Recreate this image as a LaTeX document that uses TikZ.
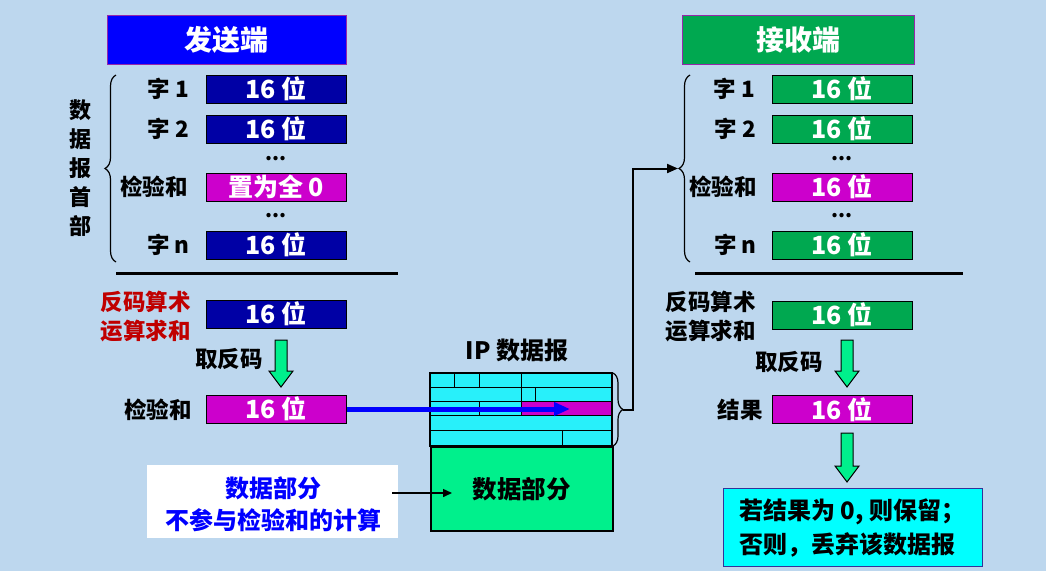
\documentclass[tikz,border=0pt]{standalone}
\usepackage{fontspec}
\setmainfont{Noto Sans CJK SC}
\usetikzlibrary{decorations.pathreplacing,arrows.meta}
\definecolor{bgc}{RGB}{189,215,238}
\definecolor{fblue}{RGB}{0,0,165}
\definecolor{tblue}{RGB}{0,0,255}
\definecolor{fmag}{RGB}{204,0,204}
\definecolor{fgreen}{RGB}{0,168,80}
\definecolor{hcyan}{RGB}{40,240,250}
\definecolor{rcyan}{RGB}{0,255,255}
\definecolor{dgreen}{RGB}{0,240,140}
\definecolor{rred}{RGB}{192,0,0}
\definecolor{rbord}{RGB}{51,51,153}
\definecolor{tbord}{RGB}{150,40,170}
\newcommand{\fs}[1]{\bfseries\fontsize{#1}{#1}\selectfont}
\begin{document}
\begin{tikzpicture}[x=1pt,y=-1pt,
  field/.style={rectangle,draw=black,line width=1pt,minimum width=140pt,minimum height=28pt,inner sep=0pt,font=\fs{25},text=white},
  titlebox/.style={rectangle,draw=tbord,line width=0.8pt,minimum height=49pt,inner sep=0pt,font=\fs{28},text=white},
  lbl/.style={anchor=east,inner sep=0pt,font=\fs{22.5}},
  dots/.style={inner sep=0pt,font=\fs{20}},
  sepline/.style={line width=3pt},
  brc/.style={decorate,decoration={brace,amplitude=11pt},line width=1.2pt},
  garrow/.style={fill=dgreen,draw=black,line width=1pt,line join=miter}]
\fill[bgc] (0,0) rectangle (1046,571);
\useasboundingbox (0,0) rectangle (1046,571);

% titles
\node[titlebox,fill=tblue,minimum width=239pt] (tsend) at (226.5,39.5) {发送端};
\node[titlebox,fill=fgreen,minimum width=232pt] (trecv) at (798,39.5) {接收端};

% sender fields
\node[field,fill=fblue] (s1) at (276,89) {16 位};
\node[field,fill=fblue] (s2) at (276,129) {16 位};
\node[dots] (sd1) at (276,159) {...};
\node[field,fill=fmag] (sc) at (276,187) {置为全 0};
\node[dots] (sd2) at (276,216) {...};
\node[field,fill=fblue] (sn) at (276,245) {16 位};
\node[lbl] (ls1) at (189,89) {字 1};
\node[lbl] (ls2) at (189,129) {字 2};
\node[lbl] (lsc) at (188,187) {检验和};
\node[lbl] (lsn) at (190,245) {字 n};
\draw[brc] (116,262) -- (116,75);
\node[inner sep=0pt,align=center,font=\bfseries\fontsize{22}{29}\selectfont] (vert) at (80,168) {数\\据\\报\\首\\部};
\draw[sepline] (116,273) -- (398,273);

\node[field,fill=fblue] (ssum) at (276,314) {16 位};
\node[inner sep=0pt,anchor=east,align=left,font=\bfseries\fontsize{22.5}{29}\selectfont,text=rred] (lsum) at (191,316) {反码算术\\运算求和};
\node[field,fill=fmag] (schk) at (276,409) {16 位};
\node[lbl] (lchk) at (192,410) {检验和};
\node[inner sep=0pt,font=\fs{22.5}] (linv) at (229,359) {取反码};
\draw[garrow] (275,340) -- (287,340) -- (287,371) -- (293,371) -- (281,387) -- (269,371) -- (275,371) -- cycle;

% IP datagram
\node[inner sep=0pt,font=\fs{24}] (iplbl) at (517,350) {IP 数据报};
\fill[hcyan] (430,373) rectangle (612,446);
\fill[fmag] (521,401) rectangle (612,415);
\draw[line width=1pt] (430,387) -- (612,387) (430,401) -- (612,401) (430,415) -- (612,415) (430,430) -- (612,430);
\draw[line width=1pt] (454,373) -- (454,387) (479,373) -- (479,387) (521,373) -- (521,387);
\draw[line width=1pt] (521,387) -- (521,401) (535,387) -- (535,401);
\draw[line width=1pt] (479,401) -- (479,415) (521,401) -- (521,415);
\draw[line width=1pt] (562,430) -- (562,446);
\draw[line width=1.5pt] (430,373) rectangle (612,446);
\node[draw=black,line width=1.5pt,fill=dgreen,minimum width=182pt,minimum height=84pt,inner sep=0pt,anchor=north west,font=\fs{24.5}] (data) at (430,446) {数据部分};
\draw[line width=1.2pt,decorate,decoration={brace,amplitude=10pt}] (613,373) -- (613,446);
\coordinate (hb) at (623,409.5);

% blue arrow
\draw[tblue,line width=5pt,-{Triangle[length=16pt,width=13pt]}] (schk.east) -- (570,409);

% to receiver
\draw[brc,line width=1.2pt] (690,262) -- (690,75);
\coordinate (rb) at (678,168.5);
\draw[line width=2pt,-{Triangle[length=11pt,width=9pt]}] (hb) -- (633,409.5) -- (633,168.5) -- (rb);

% receiver fields
\node[field,fill=fgreen] (r1) at (842,89) {16 位};
\node[field,fill=fgreen] (r2) at (842,129) {16 位};
\node[dots] (rd1) at (842,159) {...};
\node[field,fill=fmag] (rc) at (842,187) {16 位};
\node[dots] (rd2) at (842,216) {...};
\node[field,fill=fgreen] (rn) at (842,245) {16 位};
\node[lbl] (lr1) at (755,89) {字 1};
\node[lbl] (lr2) at (756,129) {字 2};
\node[lbl] (lrc) at (757,187) {检验和};
\node[lbl] (lrn) at (757,245) {字 n};
\draw[sepline] (695,273) -- (963,273);

\node[field,fill=fgreen] (rsum) at (842,315) {16 位};
\node[inner sep=0pt,anchor=east,align=left,font=\bfseries\fontsize{22.5}{29}\selectfont] (lrsum) at (756,316) {反码算术\\运算求和};
\node[inner sep=0pt,font=\fs{22.5}] (lrinv) at (789,362) {取反码};
\draw[garrow] (841,340) -- (853,340) -- (853,371) -- (859,371) -- (847,387) -- (835,371) -- (841,371) -- cycle;
\node[field,fill=fmag] (rres) at (842,409.5) {16 位};
\node[lbl] (lrres) at (763,410) {结果};
\draw[garrow] (841,433) -- (853,433) -- (853,466) -- (859,466) -- (847,482) -- (835,466) -- (841,466) -- cycle;
\node[draw=rbord,line width=1.2pt,fill=rcyan,minimum width=259pt,minimum height=78pt,anchor=north west,inner sep=0pt] (res) at (723,488) {};
\node[inner sep=0pt,anchor=west,align=left,font=\bfseries\fontsize{24}{34}\selectfont] (restext) at (739,528) {若结果为 0, 则保留；\\否则，丢弃该数据报};

% white note
\node[fill=white,minimum width=251pt,minimum height=73pt,inner sep=0pt,anchor=north west] (note) at (147,465) {};
\node[inner sep=0pt,align=center,text=tblue,font=\bfseries\fontsize{24}{32}\selectfont] (notetext) at (273,504) {数据部分\\不参与检验和的计算};
\draw[line width=1.5pt,-{Triangle[length=9pt,width=8pt]}] (392,493) -- (452,493);
\end{tikzpicture}
\end{document}
